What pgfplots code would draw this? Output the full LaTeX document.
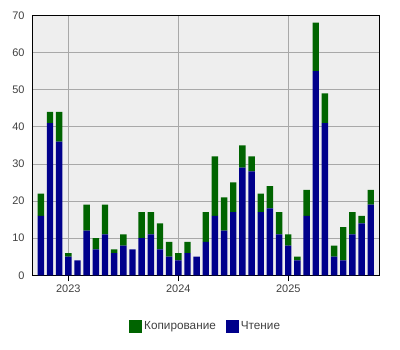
\documentclass[border=0pt]{standalone}
\usepackage{fontspec}
\setmainfont{Liberation Sans}
\usepackage{pgfplots}
\usepackage{pgfplotstable}
\pgfplotsset{compat=1.18}
\definecolor{cgreen}{HTML}{006400}
\definecolor{cblue}{HTML}{00008B}
\definecolor{bgc}{HTML}{EEEEEE}
\definecolor{gridc}{HTML}{A8A8A8}
\definecolor{txt}{HTML}{404040}
\pgfplotstableread{
x read copy
-3 16 6
-2 41 3
-1 36 8
0 5 1
1 4 0
2 12 7
3 7 3
4 11 8
5 6 1
6 8 3
7 7 0
8 10 7
9 11 6
10 7 7
11 5 4
12 4 2
13 6 3
14 5 0
15 9 8
16 16 16
17 12 9
18 17 8
19 29 6
20 28 4
21 17 5
22 18 6
23 11 6
24 8 3
25 4 1
26 16 7
27 55 13
28 41 8
29 5 3
30 4 9
31 11 6
32 14 2
33 19 4
}\datatable
\begin{document}
\begin{tikzpicture}
\path (0,0) rectangle (400bp,350bp);
\begin{axis}[
  at={(32bp,74.7bp)}, anchor=south west,
  scale only axis, width=347.3bp, height=260bp,
  xmin=-3.96, xmax=33.93, ymin=0, ymax=70,
  ybar stacked, bar width=0.7,
  axis background/.style={fill=bgc},
  axis line style={black, line width=0.8pt},
  xtick={0,12,24}, xticklabels={2023,2024,2025},
  ytick={0,10,...,70},
  grid=major, major grid style={gridc, line width=0.6pt},
  xtick pos=bottom, ytick pos=left,
  xtick align=outside, major tick length=6bp,
  x tick style={black, line width=0.6pt},
  y tick style={draw=none},
  tick label style={font=\fontsize{11}{13}\selectfont, text=txt},
  /pgf/number format/assume math mode=true,
  yticklabel style={xshift=-4bp},
  legend style={at={(0.5,-0.195)}, anchor=center, draw=none, fill=none,
    legend columns=-1, font=\fontsize{11.8}{14}\selectfont, text=txt,
    /tikz/every even column/.append style={column sep=8bp}},
  legend image code/.code={\fill[#1] (0bp,-6.5bp) rectangle (13bp,6.5bp);},
  reverse legend,
]
\addplot[fill=cblue, draw=none] table[x=x, y=read] {\datatable};
\addlegendentry{Чтение}
\addplot[fill=cgreen, draw=none] table[x=x, y=copy] {\datatable};
\addlegendentry{Копирование}
\end{axis}
\end{tikzpicture}
\end{document}
